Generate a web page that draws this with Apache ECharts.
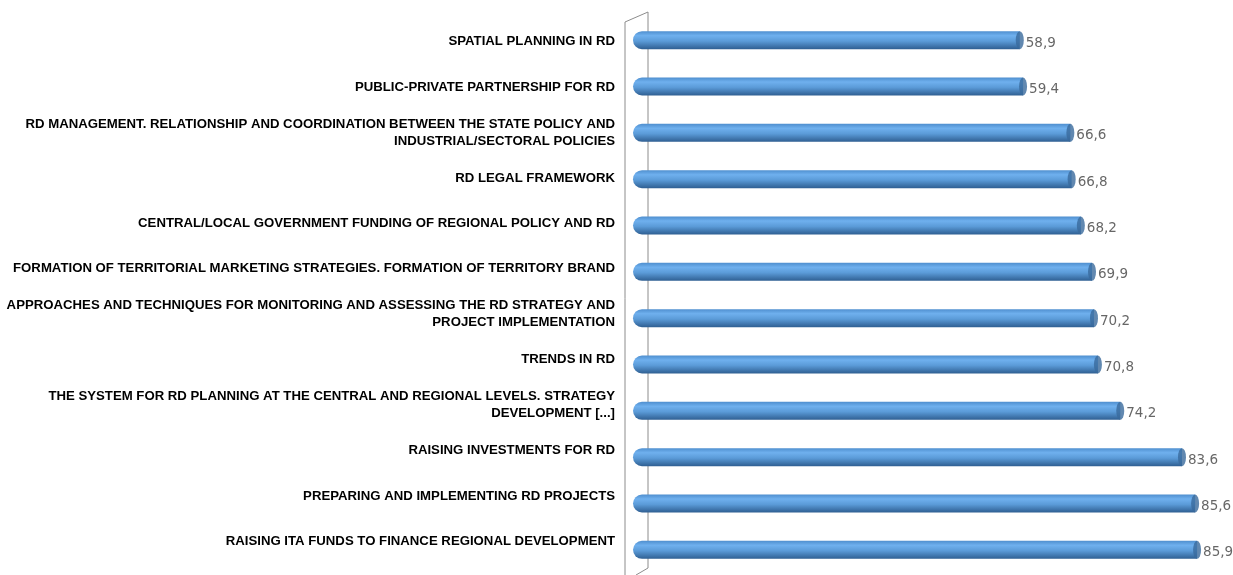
<!DOCTYPE html>
<html>
<head>
<meta charset="utf-8">
<script src="https://cdn.jsdelivr.net/npm/echarts@6/dist/echarts.min.js"></script>
<style>
  html, body { margin: 0; padding: 0; background: #fff; }
  #chart { width: 1233px; height: 575px; }
</style>
</head>
<body>
<div id="chart"></div>
<script>
var categories = [
  'SPATIAL PLANNING IN RD',
  'PUBLIC-PRIVATE PARTNERSHIP FOR RD',
  'RD MANAGEMENT. RELATIONSHIP AND COORDINATION BETWEEN THE STATE POLICY AND\nINDUSTRIAL/SECTORAL POLICIES',
  'RD LEGAL FRAMEWORK',
  'CENTRAL/LOCAL GOVERNMENT FUNDING OF REGIONAL POLICY AND RD',
  'FORMATION OF TERRITORIAL MARKETING STRATEGIES. FORMATION OF TERRITORY BRAND',
  'APPROACHES AND TECHNIQUES FOR MONITORING AND ASSESSING THE RD STRATEGY AND\nPROJECT IMPLEMENTATION',
  'TRENDS IN RD',
  'THE SYSTEM FOR RD PLANNING AT THE CENTRAL AND REGIONAL LEVELS. STRATEGY\nDEVELOPMENT [...]',
  'RAISING INVESTMENTS FOR RD',
  'PREPARING AND IMPLEMENTING RD PROJECTS',
  'RAISING ITA FUNDS TO FINANCE REGIONAL DEVELOPMENT'
]
var values = [58.9, 59.4, 66.6, 66.8, 68.2, 69.9, 70.2, 70.8, 74.2, 83.6, 85.6, 85.9]

var chart = echarts.init(document.getElementById('chart'))

chart.setOption({
  animation: false,
  grid: [
    // bars
    { left: 633, right: 9, top: 17, bottom: 2 },
    // labels (3D projection makes them sit slightly off the bars)
    { left: 625, right: 9, top: 19, bottom: 11 }
  ],
  xAxis: [
    { gridIndex: 0, type: 'value', min: 0, max: 90, show: false },
    { gridIndex: 1, type: 'value', min: 0, max: 90, show: false }
  ],
  yAxis: [
    {
      gridIndex: 0,
      type: 'category',
      inverse: true,
      data: categories,
      axisLine: { show: false },
      axisTick: { show: false },
      axisLabel: { show: false }
    },
    {
      gridIndex: 1,
      type: 'category',
      inverse: true,
      data: categories,
      axisLine: { show: false },
      axisTick: { show: false },
      axisLabel: {
        margin: 10,
        color: '#000',
        fontFamily: '"Liberation Sans Narrow", "Liberation Sans", Arial, sans-serif',
        fontWeight: 'bold',
        fontSize: 13.2,
        lineHeight: 17,
        align: 'right'
      }
    }
  ],
  graphic: [
    {
      type: 'polyline',
      shape: { points: [[625, 575], [625, 22], [648, 12], [648, 568], [636, 575]] },
      style: { fill: null, stroke: '#8c8c8c', lineWidth: 1 },
      silent: true,
      z: 0
    }
  ],
  series: [
    {
      type: 'bar',
      xAxisIndex: 0,
      yAxisIndex: 0,
      data: values,
      barWidth: 18,
      z: 2,
      itemStyle: {
        borderRadius: [9, 0, 0, 9],
        color: new echarts.graphic.LinearGradient(0, 0, 0, 1, [
          { offset: 0, color: '#4f8fcf' },
          { offset: 0.25, color: '#6fb0ee' },
          { offset: 0.55, color: '#5b9bd8' },
          { offset: 1, color: '#2f5f92' }
        ])
      }
    },
    {
      type: 'scatter',
      xAxisIndex: 0,
      yAxisIndex: 0,
      data: values,
      symbol: 'circle',
      symbolSize: [8, 18],
      z: 3,
      itemStyle: { color: '#3a6a9c' },
      label: {
        show: true,
        position: 'right',
        distance: 2,
        offset: [0, 3],
        color: '#404040',
        fontFamily: '"DejaVu Sans", Verdana, sans-serif',
        fontSize: 13.5,
        formatter: function (p) {
          return p.value.toFixed(1).replace('.', ',')
        }
      }
    }
  ]
})
</script>
</body>
</html>
